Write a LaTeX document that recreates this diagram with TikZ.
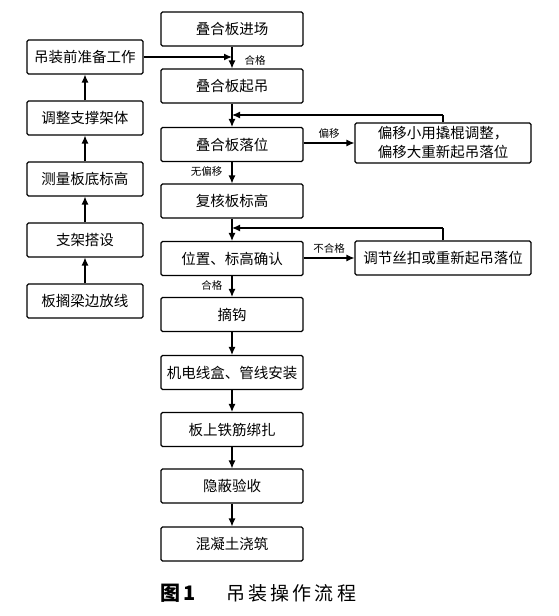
\documentclass[tikz,border=0pt]{standalone}
\usepackage{fontspec}
\setmainfont{Noto Sans CJK SC}
\usetikzlibrary{arrows.meta}
\tikzset{
  box/.style={draw, line width=1.1pt, rounded corners=1.5pt, minimum height=34pt, inner sep=1pt, font=\fontsize{14.5}{17}\selectfont},
  mainbox/.style={box, minimum width=142pt},
  leftbox/.style={box, minimum width=116pt},
  rightbox/.style={box, minimum width=176pt},
  arr/.style={line width=1.2pt, -{Latex[length=8pt,width=7pt]}},
  ln/.style={line width=1.2pt},
  lbl/.style={font=\fontsize{10.5}{12}\selectfont, inner sep=1pt}
}
\begin{document}
\begin{tikzpicture}[x=1pt,y=-1pt]
\useasboundingbox (0,0) rectangle (559,616);
% main column
\node[mainbox] (m1) at (232,29) {叠合板进场};
\node[mainbox] (m2) at (232,86) {叠合板起吊};
\node[mainbox] (m3) at (232,144.5) {叠合板落位};
\node[mainbox] (m4) at (232,201) {复核板标高};
\node[mainbox] (m5) at (232,258.5) {位置、标高确认};
\node[mainbox] (m6) at (232,314.5) {摘钩};
\node[mainbox] (m7) at (232,372.5) {机电线盒、管线安装};
\node[mainbox] (m8) at (232,429.5) {板上铁筋绑扎};
\node[mainbox] (m9) at (232,486) {隐蔽验收};
\node[mainbox] (m10) at (232,544) {混凝土浇筑};
% left column
\node[leftbox] (l1) at (85,57) {吊装前准备工作};
\node[leftbox] (l2) at (85,118) {调整支撑架体};
\node[leftbox] (l3) at (85,179) {测量板底标高};
\node[leftbox] (l4) at (85,240) {支架搭设};
\node[leftbox] (l5) at (85,301) {板搁梁边放线};
% right boxes
\node[rightbox, minimum height=40pt, align=center, font=\fontsize{14.5}{19}\selectfont] (r1) at (443,143) {偏移小用撬棍调整，\\偏移大重新起吊落位};
\node[rightbox] (r2) at (443,258) {调节丝扣或重新起吊落位};
% main arrows
\draw[arr] (m1) -- (m2);
\draw[arr] (m2) -- (m3);
\draw[arr] (m3) -- node[lbl, left=8pt, pos=0.45] {无偏移} (m4);
\draw[arr] (m4) -- (m5);
\draw[arr] (m5) -- node[lbl, left=8pt, pos=0.45] {合格} (m6);
\draw[arr] (m6) -- (m7);
\draw[arr] (m7) -- (m8);
\draw[arr] (m8) -- (m9);
\draw[arr] (m9) -- (m10);
% left arrows
\draw[arr] (l5) -- (l4);
\draw[arr] (l4) -- (l3);
\draw[arr] (l3) -- (l2);
\draw[arr] (l2) -- (l1);
\coordinate (j1) at (232,57);
\draw[arr] (l1) -- (j1);
\node[lbl] (t1) at (255,60) {合格};
% side branches
\draw[arr] (m3.east |- r1.west) -- node[lbl, above=3pt] {偏移} (r1.west);
\coordinate (j2) at (232,115);
\draw[ln] (r1.north) -- (443,115) coordinate (k2);
\draw[arr] (k2) -- (j2);
\draw[arr] (m5.east |- r2.west) -- node[lbl, above=3pt] {不合格} (r2.west);
\coordinate (j3) at (232,228);
\draw[ln] (r2.north) -- (443,228) coordinate (k3);
\draw[arr] (k3) -- (j3);
% caption
\node[anchor=west, inner sep=0pt, font=\fontsize{20}{22}\selectfont\bfseries] (cap1) at (160,593) {图\,1};
\node[anchor=west, inner sep=0pt, font=\fontsize{19}{22}\selectfont] (cap2) at (226,593) {吊\,装\,操\,作\,流\,程};
\end{tikzpicture}
\end{document}
